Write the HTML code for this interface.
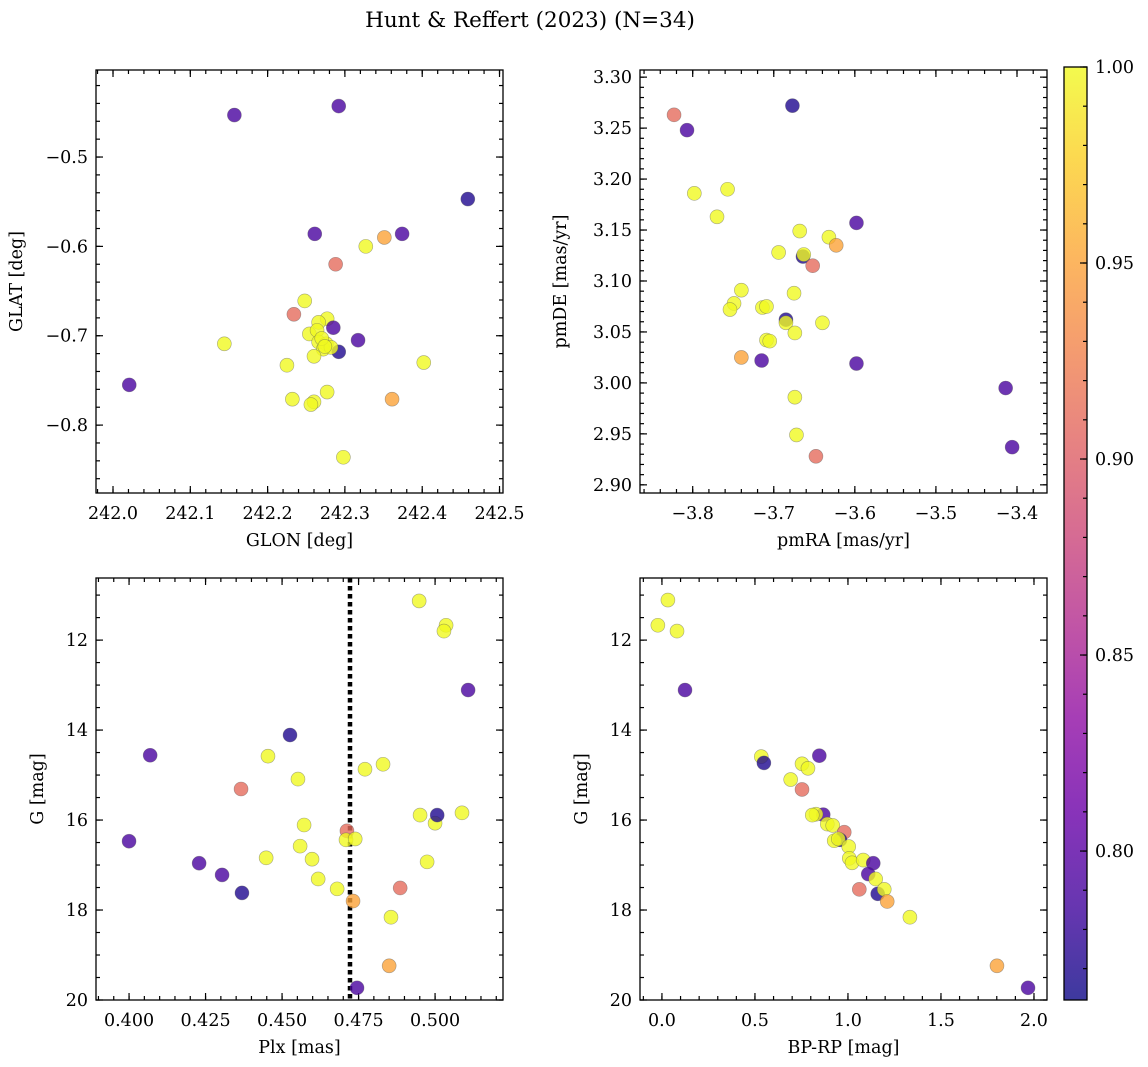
<!DOCTYPE html>
<html><head><meta charset="utf-8">
<style>
html,body{margin:0;padding:0;background:#fff;}
svg{display:block;font-family:"DejaVu Serif","Liberation Serif",serif;}
</style></head>
<body>
<svg id="fig" width="1148" height="1067" viewBox="0 0 1148 1067" xmlns="http://www.w3.org/2000/svg">
<text x="530" y="27" font-size="21.5" text-anchor="middle">Hunt &amp; Reffert (2023) (N=34)</text>
</svg>
<script>
// ---- data (per panel) ----
const glon = [242.157,242.292,242.459,242.261,242.374,242.351,242.327,242.288,242.248,242.234,242.277,242.266,242.285,242.254,242.264,242.266,242.276,242.272,242.292,242.144,242.021,242.317,242.225,242.260,242.402,242.277,242.232,242.260,242.256,242.361,242.298,242.282,242.270,242.274];
const glat = [-0.453,-0.443,-0.547,-0.586,-0.586,-0.590,-0.600,-0.620,-0.661,-0.676,-0.681,-0.685,-0.691,-0.698,-0.694,-0.707,-0.709,-0.715,-0.718,-0.709,-0.755,-0.705,-0.733,-0.723,-0.730,-0.763,-0.771,-0.774,-0.777,-0.771,-0.836,-0.713,-0.703,-0.712];
const probA = [0.79,0.79,0.77,0.79,0.79,0.95,1,0.91,1,0.91,1,1,0.79,1,1,1,1,1,0.77,1,0.79,0.79,1,1,1,1,1,1,1,0.95,1,1,1,1];

const pmra = [-3.823,-3.807,-3.677,-3.798,-3.757,-3.770,-3.668,-3.598,-3.632,-3.664,-3.663,-3.694,-3.623,-3.652,-3.740,-3.749,-3.754,-3.714,-3.709,-3.675,-3.685,-3.685,-3.640,-3.709,-3.705,-3.674,-3.740,-3.715,-3.598,-3.414,-3.674,-3.406,-3.672,-3.648];
const pmde = [3.263,3.248,3.272,3.186,3.190,3.163,3.149,3.157,3.143,3.124,3.126,3.128,3.135,3.115,3.091,3.078,3.072,3.074,3.075,3.088,3.062,3.059,3.059,3.042,3.041,3.049,3.025,3.022,3.019,2.995,2.986,2.937,2.949,2.928];
const probB = [0.91,0.79,0.77,1,1,1,1,0.79,1,0.77,1,1,0.95,0.91,1,1,1,1,1,1,0.77,1,1,1,1,1,0.95,0.79,0.79,0.79,1,0.79,1,0.91];

const plx = [0.4948,0.5036,0.5029,0.5108,0.4069,0.4454,0.4526,0.4552,0.4366,0.4830,0.4771,0.4572,0.5088,0.5000,0.5007,0.4951,0.4000,0.4559,0.4712,0.4709,0.4739,0.4448,0.4598,0.4974,0.4229,0.4304,0.4618,0.4680,0.4369,0.4886,0.4732,0.4856,0.4850,0.4745];
const gmagC = [11.13,11.67,11.80,13.11,14.56,14.58,14.11,15.09,15.31,14.76,14.87,16.11,15.84,16.07,15.89,15.89,16.47,16.58,16.24,16.44,16.42,16.84,16.87,16.93,16.96,17.22,17.31,17.53,17.62,17.51,17.80,18.16,19.24,19.73];
const probC = [1,1,1,0.79,0.79,1,0.77,1,0.91,1,1,1,1,1,0.77,1,0.79,1,0.91,1,1,1,1,1,0.79,0.79,1,1,0.77,0.91,0.95,1,0.95,0.79];
const plxLimit = [0.4722];

const bprp = [0.534,0.548,0.846,0.753,0.785,0.692,0.753,0.867,0.828,0.808,0.889,0.918,0.980,0.957,0.926,0.948,1.004,1.007,1.022,1.082,1.136,1.109,1.149,1.061,1.160,1.195,1.211,1.333,0.032,-0.022,0.081,0.124,1.801,1.968];
const gmagD = [14.59,14.73,14.57,14.75,14.85,15.10,15.32,15.88,15.87,15.89,16.09,16.12,16.27,16.44,16.46,16.42,16.59,16.85,16.95,16.89,16.96,17.20,17.31,17.54,17.64,17.54,17.81,18.16,11.11,11.67,11.80,13.11,19.24,19.73];
const probD = [1,0.77,0.79,1,1,1,0.91,0.79,1,1,1,1,0.91,0.77,1,1,1,1,1,1,0.79,0.79,1,0.91,0.77,1,0.95,1,1,1,1,0.79,0.95,0.79];

const cbTicks = [0.80,0.85,0.90,0.95,1.00];
const cMin = 0.762, cMax = 1.0;

const plasma = ["#0d0887","#41049d","#6a00a8","#8f0da4","#b12a90","#cc4778","#e16462","#f2844b","#fca636","#fcce25","#f0f921"];
function hex(h){return [parseInt(h.slice(1,3),16),parseInt(h.slice(3,5),16),parseInt(h.slice(5,7),16)];}
function cmap(t){t=Math.max(0,Math.min(1,t));const p=t*10,i=Math.min(9,Math.floor(p)),f=p-i;const a=hex(plasma[i]),b=hex(plasma[i+1]);
  const c=a.map((v,k)=>v+(b[k]-v)*f);return `rgb(${c.map(v=>Math.round(v)).join(',')})`;}
function colorOf(v){return cmap((v-cMin)/(cMax-cMin));}

const NS="http://www.w3.org/2000/svg";
const svg=document.getElementById('fig');
const FS=17.5;
function el(tag,attrs,parent){const e=document.createElementNS(NS,tag);for(const k in attrs)e.setAttribute(k,attrs[k]);(parent||svg).appendChild(e);return e;}
function fmt(v,d){return (v<0?'\u2212':'')+Math.abs(v).toFixed(d);}

function panel(o){
  const g=el('g',{});
  
  
  const X=v=>o.x0+(v-o.xmin)/(o.xmax-o.xmin)*(o.x1-o.x0);
  const Y=o.invert? (v=>o.y0+(v-o.ymin)/(o.ymax-o.ymin)*(o.y1-o.y0)) : (v=>o.y1-(v-o.ymin)/(o.ymax-o.ymin)*(o.y1-o.y0));
  const tg=el('g',{stroke:'#000','stroke-width':1.2},g);
  function ticksX(step,len,labels,dec){
    const s=Math.ceil(o.xmin/step-1e-6);
    for(let k=s;k*step<=o.xmax+1e-9;k++){const v=k*step,x=X(v);
      el('line',{x1:x,x2:x,y1:o.y1,y2:o.y1-len},tg);el('line',{x1:x,x2:x,y1:o.y0,y2:o.y0+len},tg);
      if(labels){const t=el('text',{x:x,y:o.y1+26,'font-size':FS,'text-anchor':'middle',stroke:'none'},g);t.textContent=fmt(v,dec);
        }}
  }
  function ticksY(step,len,labels,dec){
    const lo=Math.min(o.ymin,o.ymax),hi=Math.max(o.ymin,o.ymax);
    const s=Math.ceil(lo/step-1e-6);
    for(let k=s;k*step<=hi+1e-9;k++){const v=k*step,y=Y(v);
      el('line',{x1:o.x0,x2:o.x0+len,y1:y,y2:y},tg);el('line',{x1:o.x1,x2:o.x1-len,y1:y,y2:y},tg);
      if(labels){const t=el('text',{x:o.x0-8,y:y+6,'font-size':FS,'text-anchor':'end',stroke:'none'},g);t.textContent=fmt(v,dec);
        }}
  }
  ticksX(o.xminor,4,false);ticksX(o.xmajor,7,true,o.xdec);
  ticksY(o.yminor,4,false);ticksY(o.ymajor,7,true,o.ydec);
  if(o.vline){o.vline.forEach(v=>{const l=el('line',{x1:X(v),x2:X(v),y1:o.y0,y2:o.y1,stroke:'#000','stroke-width':4.5,'stroke-dasharray':'4.5,3.5'},g);
    });}
  const pg=el('g',{},g);
  o.xs.forEach((xv,i)=>{const c=el('circle',{cx:X(xv),cy:Y(o.ys[i]),r:7,fill:colorOf(o.cs[i]),'fill-opacity':0.8,stroke:'#555','stroke-opacity':0.5,'stroke-width':0.6},pg);
    });
  const fr=el('rect',{x:o.x0,y:o.y0,width:o.x1-o.x0,height:o.y1-o.y0,fill:'none',stroke:'#000','stroke-width':1.3},g);
  
  const xl=el('text',{x:(o.x0+o.x1)/2,y:o.y1+53,'font-size':FS,'text-anchor':'middle'},g);xl.textContent=o.xlabel;
  
  const cy=(o.y0+o.y1)/2, lx=o.x0-o.ylabOff;
  const yl=el('text',{x:lx,y:cy,'font-size':FS,'text-anchor':'middle',transform:`rotate(-90 ${lx} ${cy})`},g);yl.textContent=o.ylabel;
  
}

panel({name:'glon-glat-panel',x0:96,x1:503,y0:70,y1:493,xmin:241.978,xmax:242.5045,ymin:-0.876,ymax:-0.4026,
  xmajor:0.1,xminor:0.02,xdec:1,ymajor:0.1,yminor:0.02,ydec:1,xs:glon,ys:glat,cs:probA,xlabel:'GLON [deg]',ylabel:'GLAT [deg]',ylabOff:74});
panel({name:'pm-panel',x0:640,x1:1047,y0:70,y1:493,xmin:-3.865,xmax:-3.363,ymin:2.892,ymax:3.307,
  xmajor:0.1,xminor:0.02,xdec:1,ymajor:0.05,yminor:0.01,ydec:2,xs:pmra,ys:pmde,cs:probB,xlabel:'pmRA [mas/yr]',ylabel:'pmDE [mas/yr]',ylabOff:74});
panel({name:'plx-g-panel',x0:96,x1:503,y0:578,y1:1000,xmin:0.3892,xmax:0.5222,ymin:10.62,ymax:20,invert:true,
  xmajor:0.025,xminor:0.005,xdec:3,ymajor:2,yminor:0.5,ydec:0,xs:plx,ys:gmagC,cs:probC,vline:plxLimit,xlabel:'Plx [mas]',ylabel:'G [mag]',ylabOff:53});
panel({name:'cmd-panel',x0:640,x1:1047,y0:578,y1:1000,xmin:-0.118,xmax:2.07,ymin:10.62,ymax:20,invert:true,
  xmajor:0.5,xminor:0.1,xdec:1,ymajor:2,yminor:0.5,ydec:0,xs:bprp,ys:gmagD,cs:probD,xlabel:'BP-RP [mag]',ylabel:'G [mag]',ylabOff:53});

(function(){
  const cx0=1064,cx1=1087,cy0=67,cy1=1000;
  const defs=el('defs',{});const lg=el('linearGradient',{id:'cbg',x1:0,y1:1,x2:0,y2:0},defs);
  for(let i=0;i<=10;i++)el('stop',{offset:i/10,'stop-color':plasma[i],'stop-opacity':0.8},lg);
  const g=el('g',{});
  
  
  el('rect',{x:cx0,y:cy0,width:cx1-cx0,height:cy1-cy0,fill:'url(#cbg)'},g);
  const Yc=v=>cy1-(v-cMin)/(cMax-cMin)*(cy1-cy0);
  for(let k=Math.ceil(cMin*100);k<=100;k++){const y=Yc(k/100);el('line',{x1:cx1,x2:cx1-4,y1:y,y2:y,stroke:'#000','stroke-width':1.2},g);}
  cbTicks.forEach(v=>{const y=Yc(v);el('line',{x1:cx1,x2:cx1-7,y1:y,y2:y,stroke:'#000','stroke-width':1.2},g);
    const t=el('text',{x:cx1+8,y:y+6,'font-size':FS},g);t.textContent=v.toFixed(2);
    });
  el('rect',{x:cx0,y:cy0,width:cx1-cx0,height:cy1-cy0,fill:'none',stroke:'#000','stroke-width':1.3},g);
})();
</script>
</body></html>
